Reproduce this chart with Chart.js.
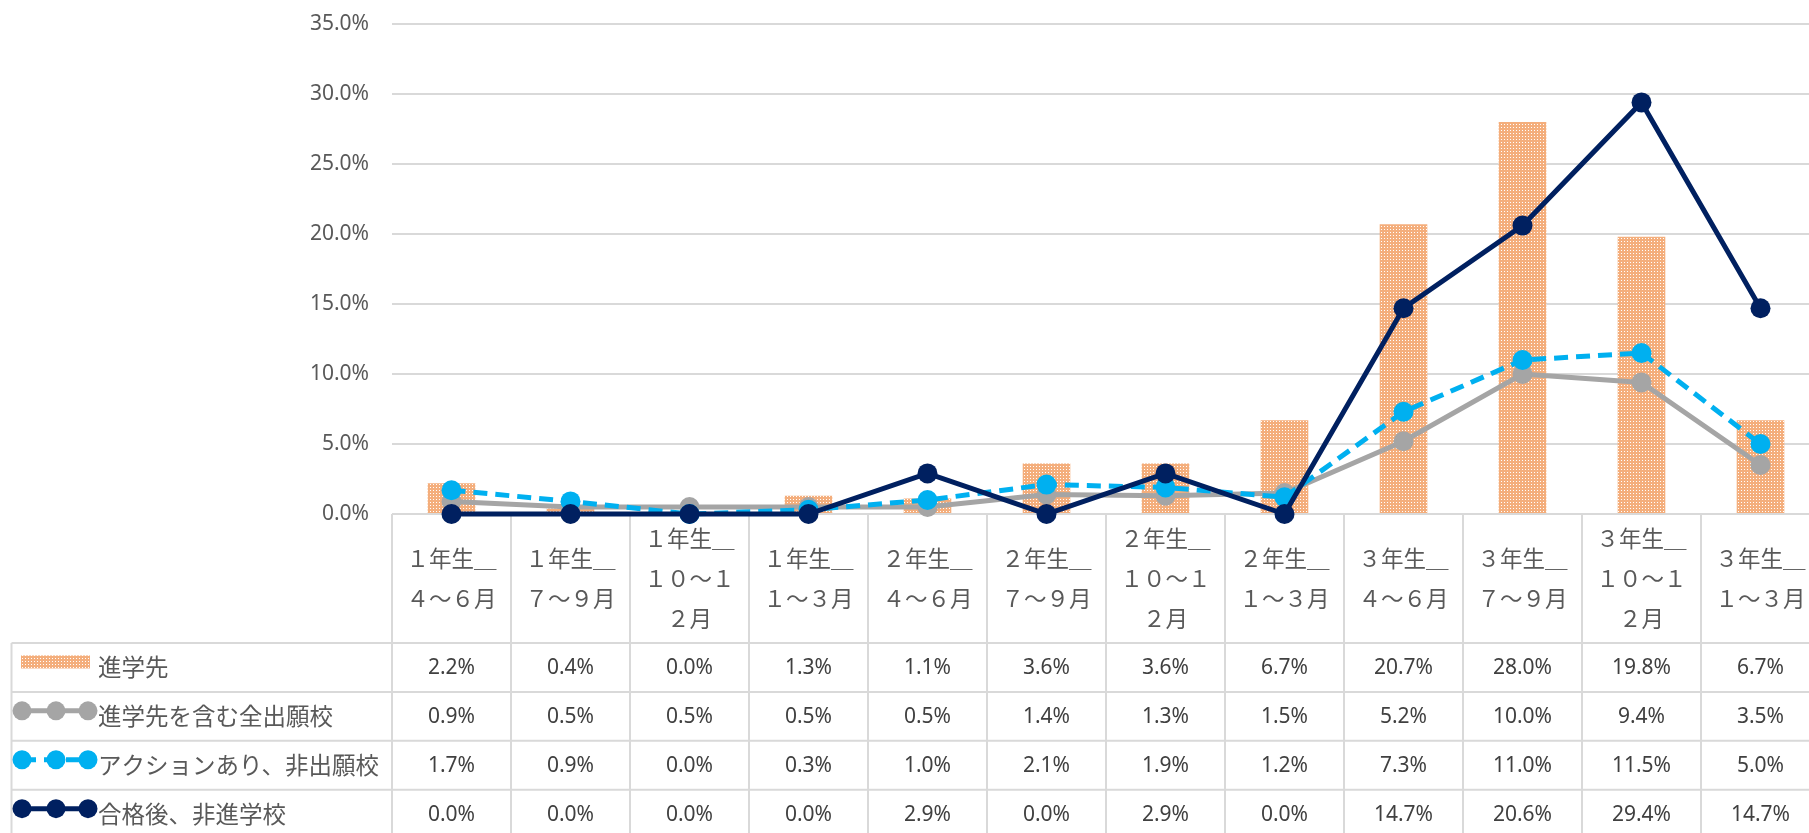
<!DOCTYPE html>
<html>
<head>
<meta charset="utf-8">
<script src="https://cdn.jsdelivr.net/npm/chart.js@4/dist/chart.umd.min.js"></script>
<style>
  html, body { margin: 0; padding: 0; background: #fff; overflow: hidden; }
  #wrap { width: 1830px; height: 833px; }
</style>
</head>
<body>
<div id="wrap"><canvas id="c" width="1830" height="833"></canvas></div>
<script>
// ---- data ----
const categories = [
  "１年生＿４～６月", "１年生＿７～９月", "１年生＿１０～１２月", "１年生＿１～３月",
  "２年生＿４～６月", "２年生＿７～９月", "２年生＿１０～１２月", "２年生＿１～３月",
  "３年生＿４～６月", "３年生＿７～９月", "３年生＿１０～１２月", "３年生＿１～３月"
];
const seriesNames = ["進学先", "進学先を含む全出願校", "アクションあり、非出願校", "合格後、非進学校"];
const shingakusaki = [2.2, 0.4, 0.0, 1.3, 1.1, 3.6, 3.6, 6.7, 20.7, 28.0, 19.8, 6.7];
const zenShutsugan = [0.9, 0.5, 0.5, 0.5, 0.5, 1.4, 1.3, 1.5, 5.2, 10.0, 9.4, 3.5];
const actionAri = [1.7, 0.9, 0.0, 0.3, 1.0, 2.1, 1.9, 1.2, 7.3, 11.0, 11.5, 5.0];
const goukakuGo = [0.0, 0.0, 0.0, 0.0, 2.9, 0.0, 2.9, 0.0, 14.7, 20.6, 29.4, 14.7];
const yMax = 35;
const yStep = 5;

// ---- styles ----
const colors = ["#F4AE7C", "#A5A5A5", "#00B0F0", "#002060"];
const gridColor = "#D9D9D9";
const textColor = "#595959";
const numFont = '"Noto Sans", sans-serif';
const jpFont = '"Noto Sans CJK JP", sans-serif';

const canvas = document.getElementById("c");
const ctx = canvas.getContext("2d");

// orange dotted fill like Excel pattern
const pc = document.createElement("canvas");
pc.width = 3; pc.height = 3;
const pg = pc.getContext("2d");
pg.fillStyle = colors[0];
pg.fillRect(0, 0, 3, 3);
pg.fillStyle = "#ffffff";
pg.fillRect(1, 1, 1, 1);
const dotPattern = ctx.createPattern(pc, "repeat");

const fmt = v => v.toFixed(1) + "%";

function chunk(str, n) {
  const chars = Array.from(str);
  const out = [];
  for (let i = 0; i < chars.length; i += n) out.push(chars.slice(i, i + n).join(""));
  return out;
}

// data table under the plot (Excel style)
const dataTable = {
  id: "dataTable",
  beforeDatasetsDraw(chart) {
    const { ctx, chartArea: ca, scales: { x } } = chart;
    const n = categories.length;
    const colW = (ca.right - ca.left) / n;
    const headBottom = 643;
    const rowH = 48.9;
    const tableLeft = 11.5;
    const bottom = chart.height + 20;
    const rows = [shingakusaki, zenShutsugan, actionAri, goukakuGo];

    ctx.save();
    ctx.strokeStyle = gridColor;
    ctx.lineWidth = 2;
    ctx.beginPath();
    for (let i = 0; i <= n; i++) {
      const xx = ca.left + i * colW;
      ctx.moveTo(xx, ca.bottom);
      ctx.lineTo(xx, bottom);
    }
    for (let r = 0; r < rows.length; r++) {
      const yy = headBottom + r * rowH;
      ctx.moveTo(tableLeft, yy);
      ctx.lineTo(ca.right, yy);
    }
    ctx.moveTo(tableLeft, headBottom);
    ctx.lineTo(tableLeft, bottom);
    ctx.stroke();

    // category headers
    ctx.fillStyle = textColor;
    ctx.textAlign = "center";
    ctx.textBaseline = "middle";
    ctx.font = "22.5px " + jpFont;
    const headMid = (ca.bottom + headBottom) / 2;
    categories.forEach((c, i) => {
      const lines = chunk(c, 4);
      const cx = x.getPixelForValue(i);
      lines.forEach((ln, j) => {
        ctx.fillText(ln, cx, headMid + (j - (lines.length - 1) / 2) * 40);
      });
    });

    // values
    ctx.fillStyle = "#404040";
    ctx.font = "21px " + numFont;
    rows.forEach((arr, r) => {
      const cy = headBottom + rowH * (r + 0.5);
      arr.forEach((v, i) => ctx.fillText(fmt(v), x.getPixelForValue(i), cy + 1));
    });

    // legend keys + names
    rows.forEach((arr, r) => {
      const cy = headBottom + rowH * (r + 0.5);
      const ky = cy - 5.5;
      if (r === 0) {
        ctx.fillStyle = dotPattern;
        ctx.fillRect(21, ky - 6.5, 69, 13);
      } else {
        ctx.strokeStyle = colors[r];
        ctx.lineWidth = 5;
        ctx.setLineDash(r === 2 ? [14, 8] : []);
        ctx.beginPath();
        ctx.moveTo(22, ky);
        ctx.lineTo(88, ky);
        ctx.stroke();
        ctx.setLineDash([]);
        ctx.fillStyle = colors[r];
        [22, 56, 88].forEach(px => {
          ctx.beginPath();
          ctx.arc(px, ky, 9.5, 0, Math.PI * 2);
          ctx.fill();
        });
      }
      ctx.fillStyle = textColor;
      ctx.textAlign = "left";
      ctx.font = "23.5px " + jpFont;
      ctx.fillText(seriesNames[r], 98, cy);
      ctx.textAlign = "center";
    });
    ctx.restore();
  }
};

function lineSet(label, data, color, order, dash) {
  return {
    type: "line",
    label,
    data,
    borderColor: color,
    backgroundColor: color,
    pointBackgroundColor: color,
    pointBorderWidth: 0,
    pointRadius: 10,
    borderWidth: 5,
    borderDash: dash || [],
    tension: 0,
    clip: false,
    order
  };
}

new Chart(ctx, {
  type: "bar",
  data: {
    labels: categories,
    datasets: [
      {
        type: "bar",
        label: seriesNames[0],
        data: shingakusaki,
        backgroundColor: dotPattern,
        barPercentage: 0.4,
        categoryPercentage: 1.0,
        order: 4
      },
      lineSet(seriesNames[1], zenShutsugan, colors[1], 3),
      lineSet(seriesNames[2], actionAri, colors[2], 2, [14, 8]),
      lineSet(seriesNames[3], goukakuGo, colors[3], 1)
    ]
  },
  options: {
    responsive: false,
    animation: false,
    layout: { padding: { left: 0, top: 24, right: 8, bottom: 319 } },
    plugins: { legend: { display: false }, tooltip: { enabled: false } },
    scales: {
      x: { display: false, offset: true },
      y: {
        min: 0,
        max: yMax,
        ticks: {
          stepSize: yStep,
          padding: 23,
          color: textColor,
          font: { family: numFont, size: 21 },
          callback: v => fmt(v)
        },
        grid: { color: gridColor, lineWidth: 2, drawTicks: false },
        border: { display: false },
        afterFit(scale) {
          scale.width = 392;
          scale.paddingTop = 0;
          scale.paddingBottom = 0;
        }
      }
    }
  },
  plugins: [dataTable]
});
</script>
</body>
</html>
